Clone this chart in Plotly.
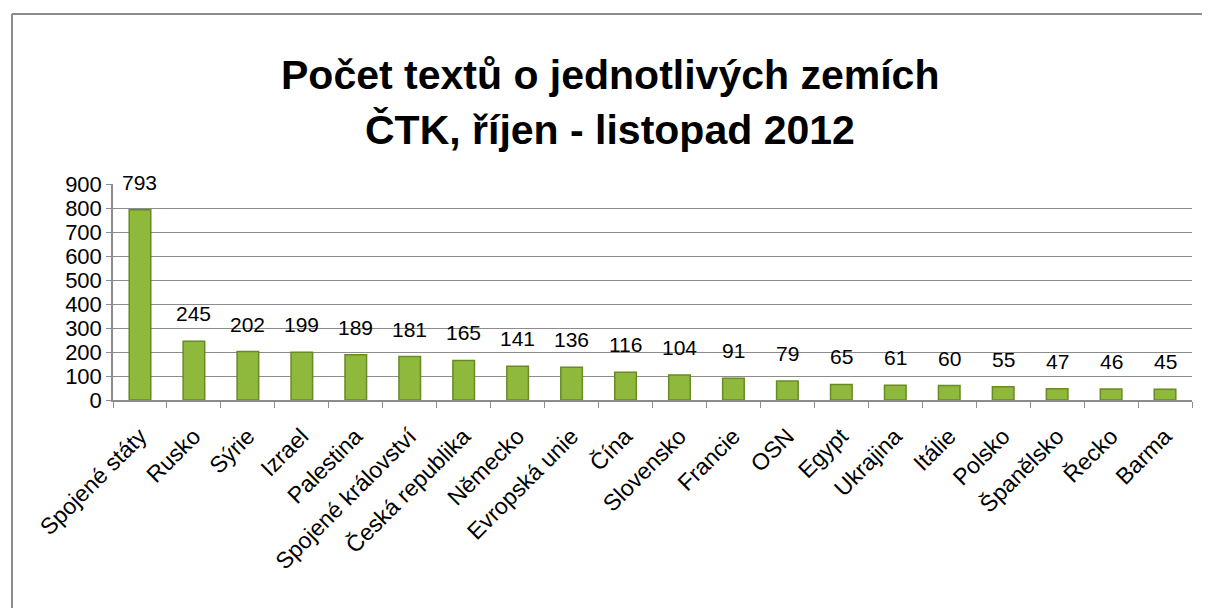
import plotly.graph_objects as go

categories = ["Spojené státy", "Rusko", "Sýrie", "Izrael", "Palestina", "Spojené království",
              "Česká republika", "Německo", "Evropská unie", "Čína", "Slovensko", "Francie",
              "OSN", "Egypt", "Ukrajina", "Itálie", "Polsko", "Španělsko", "Řecko", "Barma"]
values = [793, 245, 202, 199, 189, 181, 165, 141, 136, 116, 104, 91, 79, 65, 61, 60, 55, 47, 46, 45]
y_ticks = [0, 100, 200, 300, 400, 500, 600, 700, 800, 900]
title_lines = ["Počet textů o jednotlivých zemích", "ČTK, říjen - listopad 2012"]

FONT = "Liberation Sans"

fig = go.Figure()
fig.add_trace(go.Bar(
    x=categories, y=values,
    marker=dict(color="#8fb93d", line=dict(color="#6a8a25", width=1.5)),
    width=0.4,
))

for c, v in zip(categories, values):
    fig.add_annotation(x=c, y=v, text=str(v), showarrow=False, yanchor="bottom",
                       yshift=14, font=dict(family=FONT, size=21, color="black"))

for line, yp in zip(title_lines, [1.505, 1.25]):
    fig.add_annotation(xref="paper", yref="paper", x=0.4606, y=yp, xanchor="center",
                       yanchor="middle", showarrow=False, text="<b>" + line + "</b>",
                       font=dict(family=FONT, size=41, color="black"))

# chart frame (left and top edges visible in the picture)
fig.add_shape(type="line", xref="paper", yref="paper", x0=-0.0936, x1=-0.0936, y0=-1.3, y1=1.787,
              line=dict(color="#8c8c8c", width=2), layer="below")
fig.add_shape(type="line", xref="paper", yref="paper", x0=-0.0936, x1=1.2, y0=1.787, y1=1.787,
              line=dict(color="#8c8c8c", width=2), layer="below")

fig.update_layout(
    width=1210, height=608,
    margin=dict(l=105, r=26, t=176, b=216),
    paper_bgcolor="white", plot_bgcolor="white",
    showlegend=False,
    font=dict(family=FONT, size=20, color="black"),
)
fig.update_xaxes(
    type="category", tickangle=-45, tickson="boundaries", ticks="outside", ticklen=6,
    tickcolor="#8c8c8c", showline=True, linecolor="#8c8c8c", linewidth=1.5,
    showgrid=False, ticklabelstandoff=12, tickfont=dict(family=FONT, size=23, color="black"),
)
fig.update_yaxes(
    range=[0, 900], tickvals=y_ticks, ticks="outside", ticklen=5, tickcolor="#8c8c8c",
    showline=True, linecolor="#8c8c8c", linewidth=1.5, showgrid=True, gridcolor="#8c8c8c",
    gridwidth=1, zeroline=False, tickfont=dict(family=FONT, size=22, color="black"),
)

fig.write_html("out.html")
